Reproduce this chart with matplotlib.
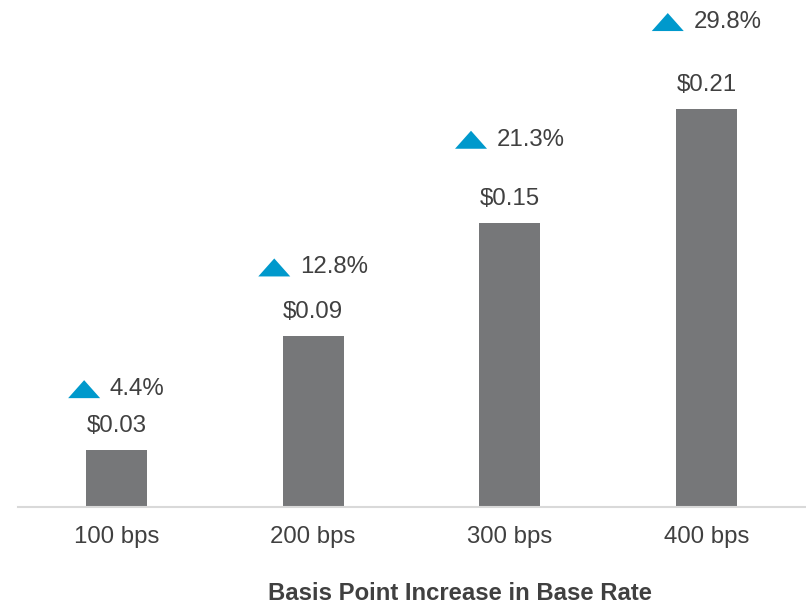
import matplotlib
matplotlib.use("Agg")
import matplotlib.pyplot as plt
from matplotlib.offsetbox import AnnotationBbox, HPacker, TextArea, DrawingArea
from matplotlib.patches import Polygon

categories = ["100 bps", "200 bps", "300 bps", "400 bps"]
values = [0.03, 0.09, 0.15, 0.21]
value_labels = ["$0.03", "$0.09", "$0.15", "$0.21"]
pct_labels = ["4.4%", "12.8%", "21.3%", "29.8%"]
xlabel = "Basis Point Increase in Base Rate"

plt.rcParams['font.family'] = ['Liberation Sans', 'DejaVu Sans']
TEXT = "#404040"
BAR = "#767779"
TRI = "#0099CC"
FS = 17.3

fig = plt.figure(figsize=(8.06, 6.06), dpi=100)
ax = fig.add_axes([18/806, 99/606, 787/806, 507/606])
x = list(range(len(categories)))
ax.bar(x, values, width=0.31, color=BAR, zorder=2)
ax.set_xlim(-0.5, 3.5)
ax.set_ylim(0, 507/1895)

for s in ["top", "right", "left"]:
    ax.spines[s].set_visible(False)
ax.spines["bottom"].set_color("#d9d9d9")
ax.spines["bottom"].set_linewidth(1.5)
ax.set_yticks([])
ax.set_xticks(x)
ax.set_xticklabels(categories, fontsize=FS, color=TEXT)
ax.tick_params(axis="x", length=0, pad=14)
fig.text(460/806, 1 - 594/606, xlabel, fontsize=17.2, fontweight="bold", color=TEXT,
         ha="center", va="center")

# offsets above bar top (points)
val_off = 24 * 72 / 100
pct_offsets = [61, 69, 83, 87]

for i, v in enumerate(values):
    ax.annotate(value_labels[i], (i, v), xytext=(0, val_off), textcoords="offset points",
                ha="center", va="center", fontsize=FS, color=TEXT)
    w, h = 32 * 0.72, 18 * 0.72
    da = DrawingArea(w, h, 0, 0)
    da.add_artist(Polygon([[0, 0], [w, 0], [w / 2, h]], closed=True, color=TRI, lw=0))
    ta = TextArea(pct_labels[i], textprops=dict(fontsize=FS, color=TEXT))
    pack = HPacker(children=[da, ta], align="center", pad=0, sep=7)
    ab = AnnotationBbox(pack, (i, v), xybox=(0, pct_offsets[i] * 0.72),
                        xycoords="data", boxcoords="offset points",
                        frameon=False, box_alignment=(0.5, 0.5), pad=0)
    ax.add_artist(ab)

fig.savefig("out.png", dpi=100)
